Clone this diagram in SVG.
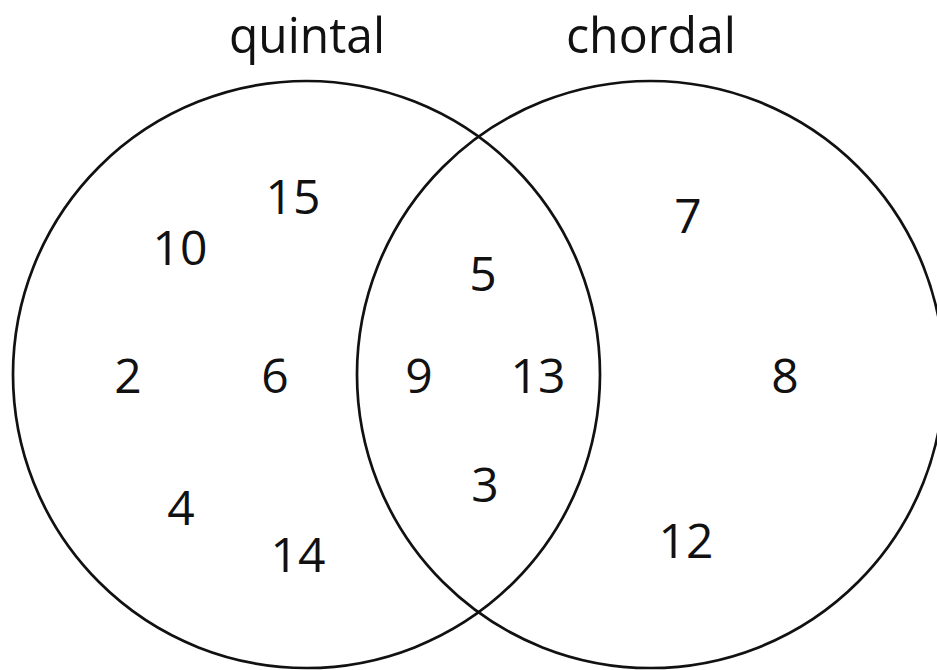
<svg xmlns="http://www.w3.org/2000/svg" width="937" height="670" viewBox="0 0 937 670">
  <style>
    .set { fill: none; stroke: #111; stroke-width: 2.7; }
    .label { font-family: "Open Sans", "Noto Sans", "Liberation Sans", sans-serif; font-size: 49px; fill: #111; text-anchor: middle; }
    .num { font-family: "Open Sans", "Noto Sans", "Liberation Sans", sans-serif; font-size: 48px; fill: #111; text-anchor: middle; }
  </style>
  <rect width="937" height="670" fill="#fff"/>

  <!-- set outlines -->
  <g id="sets">
    <circle id="set-quintal" class="set" cx="306.5" cy="374.5" r="293.5"/>
    <circle id="set-chordal" class="set" cx="650.5" cy="374.5" r="293.5"/>
  </g>

  <!-- set titles -->
  <g id="titles">
    <text id="title-quintal" class="label" x="307" y="53" textLength="156" lengthAdjust="spacingAndGlyphs">quintal</text>
    <text id="title-chordal" class="label" x="651" y="53" textLength="170" lengthAdjust="spacingAndGlyphs">chordal</text>
  </g>

  <!-- quintal only -->
  <g id="quintal-only">
    <text class="num" x="293" y="214">15</text>
    <text class="num" x="180" y="265">10</text>
    <text class="num" x="128" y="393">2</text>
    <text class="num" x="275" y="393">6</text>
    <text class="num" x="181" y="525">4</text>
    <text class="num" x="298" y="572">14</text>
  </g>

  <!-- both sets -->
  <g id="intersection">
    <text class="num" x="483" y="291">5</text>
    <text class="num" x="419" y="393">9</text>
    <text class="num" x="538" y="393">13</text>
    <text class="num" x="485" y="502">3</text>
  </g>

  <!-- chordal only -->
  <g id="chordal-only">
    <text class="num" x="688" y="233">7</text>
    <text class="num" x="785" y="393">8</text>
    <text class="num" x="686" y="558">12</text>
  </g>
</svg>
